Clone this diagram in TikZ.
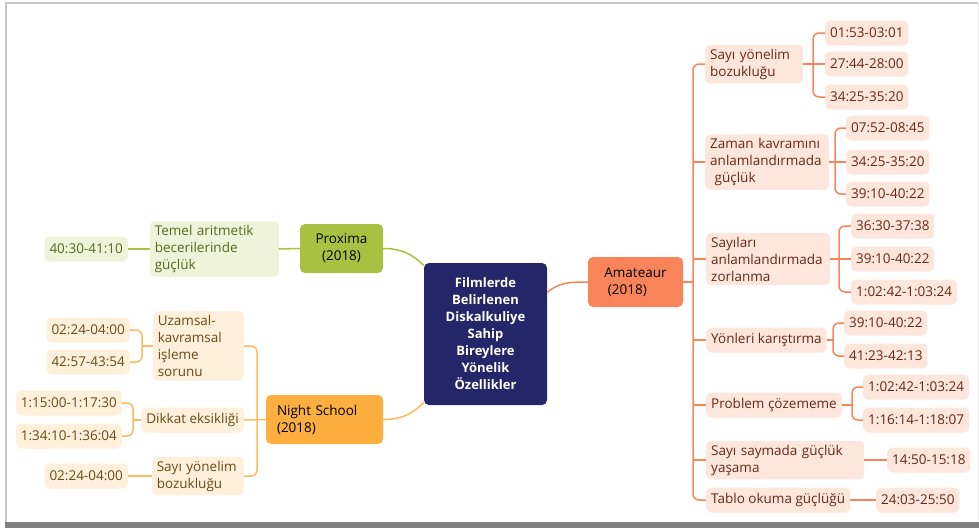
\documentclass[tikz,border=0pt]{standalone}
\usepackage{fontspec}
\setmainfont{Open Sans}
\definecolor{navy}{HTML}{232668}
\definecolor{amdark}{HTML}{F9845A}
\definecolor{amlight}{HTML}{FDE6DC}
\definecolor{amtext}{HTML}{6A2814}
\definecolor{prdark}{HTML}{A9C140}
\definecolor{prlight}{HTML}{EEF3DA}
\definecolor{prtext}{HTML}{59691E}
\definecolor{nsdark}{HTML}{FCAF3F}
\definecolor{nslight}{HTML}{FEF0DB}
\definecolor{nstext}{HTML}{6E4A17}
\begin{document}
\begin{tikzpicture}[x=1pt,y=1pt,
    box/.style={rounded corners=5pt,inner xsep=5pt,inner ysep=4pt,minimum height=25pt,
        font=\fontsize{13.5}{17}\selectfont,align=left},
    amleaf/.style={box,fill=amlight,text=amtext},
    prleaf/.style={box,fill=prlight,text=prtext},
    nsleaf/.style={box,fill=nslight,text=nstext},
    amline/.style={draw=amdark,line width=1.5pt,rounded corners=6pt},
    prline/.style={draw=prdark,line width=1.5pt,rounded corners=6pt},
    nsline/.style={draw=nsdark!85!white,line width=1.5pt,rounded corners=6pt}]
    \useasboundingbox (0,0) rectangle (979,-530);
    % frame
    \fill[black!50] (5,-522) rectangle (979,-528);
    \draw[black!22,line width=2pt] (6,-522) -- (6,-3) -- (978,-3);
    \draw[black!8] (978,-3) -- (978,-522);

    \node[fill=navy,text=white,rounded corners=5pt,minimum width=123pt,minimum height=142pt,
        align=center,font=\bfseries\fontsize{13}{17}\selectfont] (cen) at (485.5,-334)
        {Filmlerde\\Belirlenen\\Diskalkuliye\\Sahip\\Bireylere\\Yönelik\\Özellikler};
    \node[box,fill=amdark,minimum width=95pt,minimum height=50pt] (am) at (635.5,-282) {Amateaur\\\ (2018)};
    \node[box,fill=prdark,align=center,minimum width=83pt,minimum height=49pt] (px) at (341.5,-248.5) {Proxima\\(2018)};
    \node[box,fill=nsdark,inner xsep=11pt,text width=95pt,minimum height=49pt] (ns) at (324.5,-419.5) {Night School\\(2018)};

    \draw[amline] (cen.34) to[out=40,in=180] (am.west);
    \draw[prline] (px.east) to[out=0,in=135] (cen.132);
    \draw[nsline] (ns.east) to[out=0,in=225] (cen.228);

    %% Amateaur
    \node[amleaf,anchor=west,text width=88pt] (r1) at (705,-64) {Sayı yönelim\\bozukluğu};
    \node[amleaf,anchor=west,text width=114pt] (r2) at (705,-162) {Zaman kavramını\\anlamlandırmada\\\ güçlük};
    \node[amleaf,anchor=west,text width=114pt] (r3) at (706,-259) {Sayıları\\anlamlandırmada\\zorlanma};
    \node[amleaf,anchor=west] (r4) at (706,-340) {Yönleri karıştırma};
    \node[amleaf,anchor=west] (r5) at (706,-405) {Problem çözememe};
    \node[amleaf,anchor=west,text width=148pt] (r6) at (706,-460) {Sayı saymada güçlük\\yaşama};
    \node[amleaf,anchor=west] (r7) at (706,-500) {Tablo okuma güçlüğü};
    \foreach \nm/\x/\y/\t in {r11/825/33/01:53-03:01, r12/825/64/27:44-28:00, r13/825/97/34:25-35:20,
            r21/846/128/07:52-08:45, r22/846/162/34:25-35:20, r23/846/194/39:10-40:22,
            r31/851/226/36:30-37:38, r32/851/259/39:10-40:22, r33/851/292/1:02:42-1:03:24,
            r41/844/323/39:10-40:22, r42/844/356/41:23-42:13,
            r51/863/387/1:02:42-1:03:24, r52/863/420/1:16:14-1:18:07,
            r61/887/460/14:50-15:18, r71/876/500/24:03-25:50}
        \node[amleaf,anchor=west] (\nm) at (\x,-\y) {\t};

    \draw[amline] (am.east) -- ([xshift=-12pt]r1.west |- am.east);
    \draw[amline] (r1.west) -- ++(-12,0) |- (r7.west);
    \foreach \i in {2,...,6}
        \draw[amline] (r\i.west) -- ++(-12,0);
    \draw[amline] (r11.west) -- ++(-12,0) |- (r13.west);
    \draw[amline] (r1.east) -- (r12.west);
    \draw[amline] (r21.west) -- ++(-11,0) |- (r23.west);
    \draw[amline] (r2.east) -- (r22.west);
    \draw[amline] (r31.west) -- ++(-12,0) |- (r33.west);
    \draw[amline] (r3.east) -- (r32.west);
    \draw[amline] (r41.west) -- ++(-11,0) |- (r42.west);
    \draw[amline] (r4.east) -- ([xshift=-11pt]r41.west |- r4.east);
    \draw[amline] (r51.west) -- ++(-11,0) |- (r52.west);
    \draw[amline] (r5.east) -- ([xshift=-11pt]r51.west |- r5.east);
    \draw[amline] (r6.east) -- (r61.west);
    \draw[amline] (r7.east) -- (r71.west);

    %% Proxima
    \node[prleaf,anchor=east,text width=119pt] (p1) at (279,-249) {Temel aritmetik\\becerilerinde\\güçlük};
    \node[prleaf,anchor=east] (p11) at (128,-249) {40:30-41:10};
    \draw[prline] (px.west) -- (p1.east);
    \draw[prline] (p1.west) -- (p11.east);

    %% Night School
    \node[nsleaf,anchor=east,text width=81pt] (n1) at (244,-346) {Uzamsal-\\kavramsal\\işleme\\sorunu};
    \node[nsleaf,anchor=east] (n2) at (244,-420) {Dikkat eksikliği};
    \node[nsleaf,anchor=east,text width=82pt] (n3) at (244,-476) {Sayı yönelim\\bozukluğu};
    \foreach \nm/\x/\y/\t in {n11/130/330/02:24-04:00, n12/130/362/42:57-43:54,
            n21/122/403/1:15:00-1:17:30, n22/122/436/1:34:10-1:36:04, n31/128/476/02:24-04:00}
        \node[nsleaf,anchor=east] (\nm) at (\x,-\y) {\t};

    \draw[nsline] (n1.east) -- ++(13,0) |- (n3.east);
    \draw[nsline] (ns.west) -- (n2.east);
    \draw[nsline] (n11.east) -- ++(12,0) |- (n12.east);
    \draw[nsline] (n1.west) -- ([xshift=12pt]n11.east |- n1.west);
    \draw[nsline] (n21.east) -- ++(11,0) |- (n22.east);
    \draw[nsline] (n2.west) -- ([xshift=11pt]n21.east |- n2.west);
    \draw[nsline] (n3.west) -- (n31.east);
\end{tikzpicture}
\end{document}
